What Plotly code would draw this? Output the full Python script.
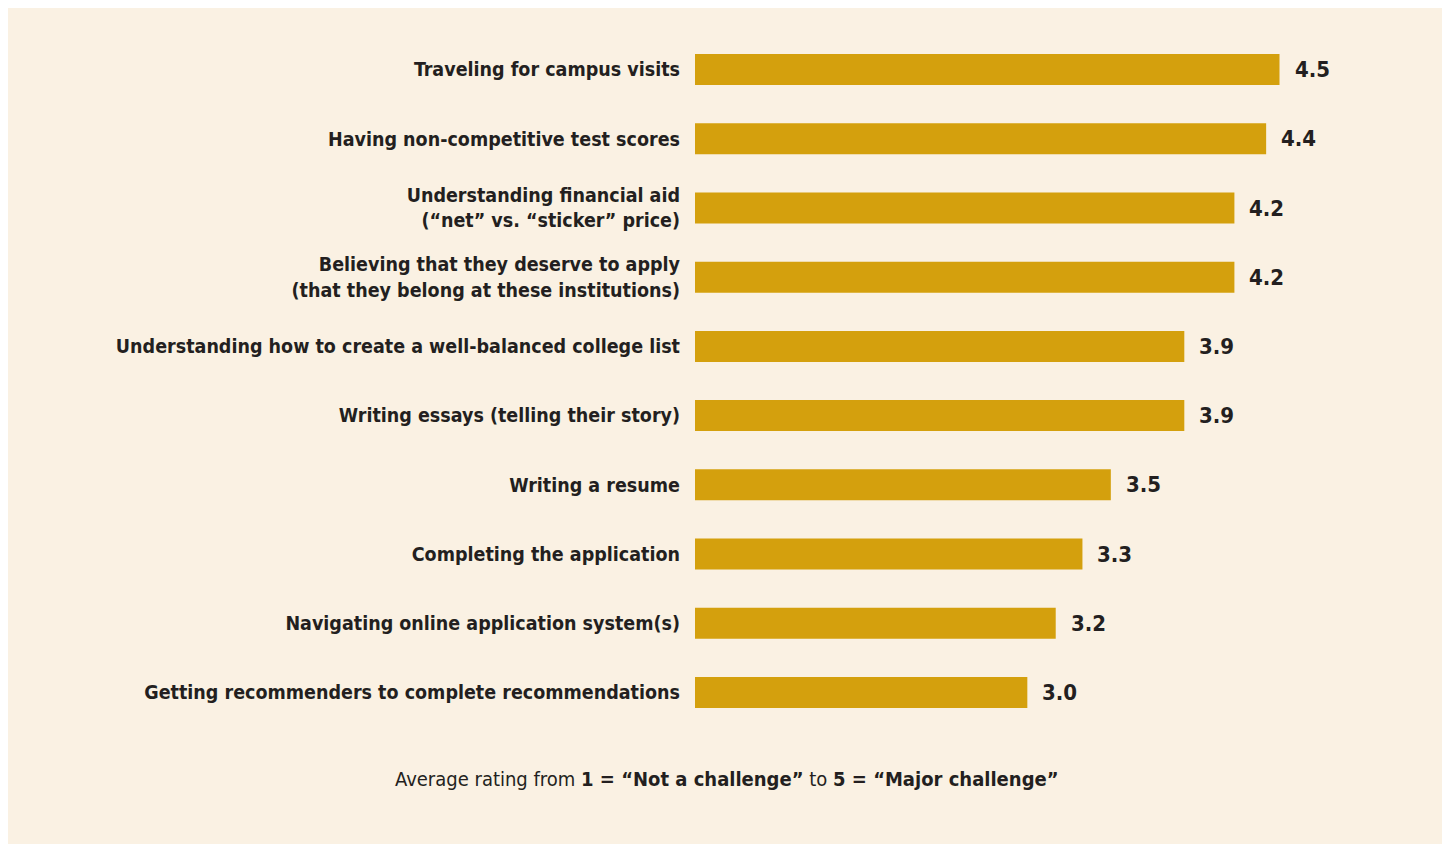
import plotly.graph_objects as go

categories = [
    "Traveling for campus visits",
    "Having non-competitive test scores",
    "Understanding financial aid<br>(“net” vs. “sticker” price)",
    "Believing that they deserve to apply<br>(that they belong at these institutions)",
    "Understanding how to create a well-balanced college list",
    "Writing essays (telling their story)",
    "Writing a resume",
    "Completing the application",
    "Navigating online application system(s)",
    "Getting recommenders to complete recommendations",
]
values = [4.50, 4.42, 4.23, 4.23, 3.93, 3.93, 3.49, 3.32, 3.16, 2.99]
value_labels = ["4.5", "4.4", "4.2", "4.2", "3.9", "3.9", "3.5", "3.3", "3.2", "3.0"]
scale_min = 1

BAR = "#D4A00D"
BG = "#FAF1E3"
INK = "#231F20"
FONT = "DejaVu Sans Condensed, Liberation Sans Narrow, Arial Narrow, sans-serif"

W, H = 1439, 836
ML, MR, MT, MB = 687, 0, 27, 117
plot_w = W - ML - MR
px_per_unit = 167

fig = go.Figure(
    go.Bar(
        x=[v - scale_min for v in values],
        base=scale_min,
        y=categories,
        orientation="h",
        marker=dict(color=BAR, line=dict(width=0)),
        width=0.448,
        hoverinfo="skip",
    )
)

for c, v, t in zip(categories, values, value_labels):
    fig.add_annotation(
        x=v, y=c, xref="x", yref="y", text=f"<b>{t}</b>", showarrow=False,
        xanchor="left", yanchor="middle", xshift=13,
        font=dict(family=FONT, size=22, color=INK),
    )

fig.add_annotation(
    x=(726.5 - 8 - ML) / plot_w, y=-(769 - (H - 2 - MB)) / (H - MT - MB),
    xref="paper", yref="paper", showarrow=False, xanchor="center", yanchor="middle",
    text="Average rating from <b>1 = “Not a challenge”</b> to <b>5 = “Major challenge”</b>",
    font=dict(family=FONT, size=20, color=INK),
)

fig.update_layout(
    width=W, height=H,
    margin=dict(l=ML, r=MR, t=MT, b=MB, pad=0),
    paper_bgcolor=BG, plot_bgcolor=BG,
    showlegend=False,
    font=dict(family=FONT, color=INK),
    xaxis=dict(range=[scale_min, scale_min + plot_w / px_per_unit], visible=False, fixedrange=True),
    yaxis=dict(
        type="category", categoryorder="array", categoryarray=categories,
        autorange="reversed", showgrid=False, zeroline=False, showline=False,
        ticks="", ticklabelstandoff=14,
        tickfont=dict(family=FONT, size=19.5, color=INK, weight="bold"),
        fixedrange=True,
    ),
)

fig.write_html("out.html", config={"displayModeBar": False})
